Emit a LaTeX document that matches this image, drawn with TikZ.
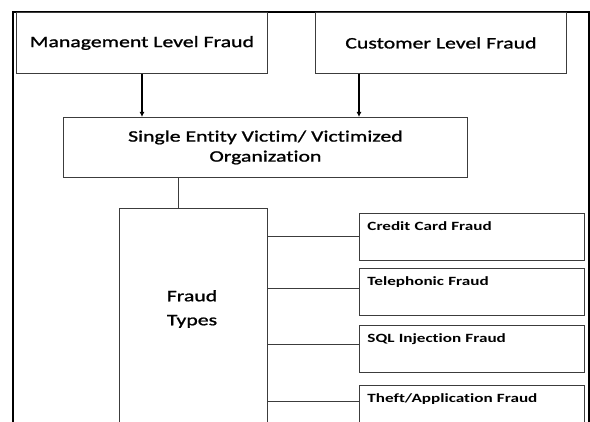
\documentclass[tikz,border=0pt]{standalone}
\usepackage{fontspec}
\setmainfont{Carlito}
\newfontfamily\boxfont[FakeStretch=1.36, FakeBold=1.2, Ligatures=NoCommon]{Carlito}
\newfontfamily\typefont[FakeStretch=1.36, Ligatures=NoCommon]{Carlito}
\usetikzlibrary{arrows.meta,positioning}
\definecolor{lineagris}{RGB}{60,60,60}
\tikzset{
  mainbox/.style={draw=lineagris, line width=0.9pt, align=center, inner sep=0pt,
    font=\boxfont\fontsize{16}{20}\selectfont},
  typebox/.style={draw=lineagris, line width=0.9pt, anchor=north west, align=left,
    minimum width=225pt, text width=209pt, inner xsep=8pt, inner ysep=7pt,
    text height=10pt, text depth=23pt, font=\typefont\bfseries\fontsize{12.6}{14}\selectfont},
  flecha/.style={line width=1.4pt, -{Latex[length=5pt,width=5pt]}},
  enlace/.style={draw=lineagris, line width=0.9pt}
}

\begin{document}
\begin{tikzpicture}[x=1pt, y=-1pt]
\useasboundingbox (0,0) rectangle (590,422);

% marco exterior
\coordinate (MarcoSI) at (13,12);
\coordinate (MarcoSD) at (589,12);
\draw[line width=1.1pt] (13,430) -- (MarcoSI) -- (MarcoSD) -- (589,430);

\node[mainbox, minimum width=251pt, minimum height=61pt, anchor=north west]
  (MgmtFraud) at (16,12) {Management Level Fraud};
\node[mainbox, minimum width=251pt, minimum height=61pt, anchor=north west]
  (CustFraud) at (315,12) {Customer Level Fraud};

\node[mainbox, minimum width=404pt, minimum height=60pt, anchor=north west]
  (VictimOrg) at (63,117) {Single Entity Victim/ Victimized\\Organization};

\draw[flecha] (MgmtFraud.south -| 142,0) -- (VictimOrg.north -| 142,0);
\draw[flecha] (CustFraud.south -| 359,0) -- (VictimOrg.north -| 359,0);

% caja de tipos
\node[draw=lineagris, line width=0.9pt, minimum width=148pt, minimum height=240pt,
  anchor=north west, inner sep=0pt] (FraudTypes) at (119,208) {};
\node[mainbox, draw=none, font=\boxfont\fontsize{16}{24}\selectfont]
  (FraudTypesTxt) at (192,309) {Fraud\\Types};
\draw[enlace] (VictimOrg.south -| 178,0) -- (FraudTypes.north -| 178,0);

\node[typebox] (CreditFraud) at (359,213) {Credit Card Fraud};
\node[typebox] (PhoneFraud) at (359,268) {Telephonic Fraud};
\node[typebox] (SqlFraud) at (359,325) {SQL Injection Fraud};
\node[typebox, text depth=50pt] (TheftFraud) at (359,385) {Theft/Application Fraud};

\draw[enlace] (FraudTypes.east |- 0,236) -- (CreditFraud.west |- 0,236);
\draw[enlace] (FraudTypes.east |- 0,288) -- (PhoneFraud.west |- 0,288);
\draw[enlace] (FraudTypes.east |- 0,344) -- (SqlFraud.west |- 0,344);
\draw[enlace] (FraudTypes.east |- 0,401) -- (TheftFraud.west |- 0,401);

\end{tikzpicture}
\end{document}
